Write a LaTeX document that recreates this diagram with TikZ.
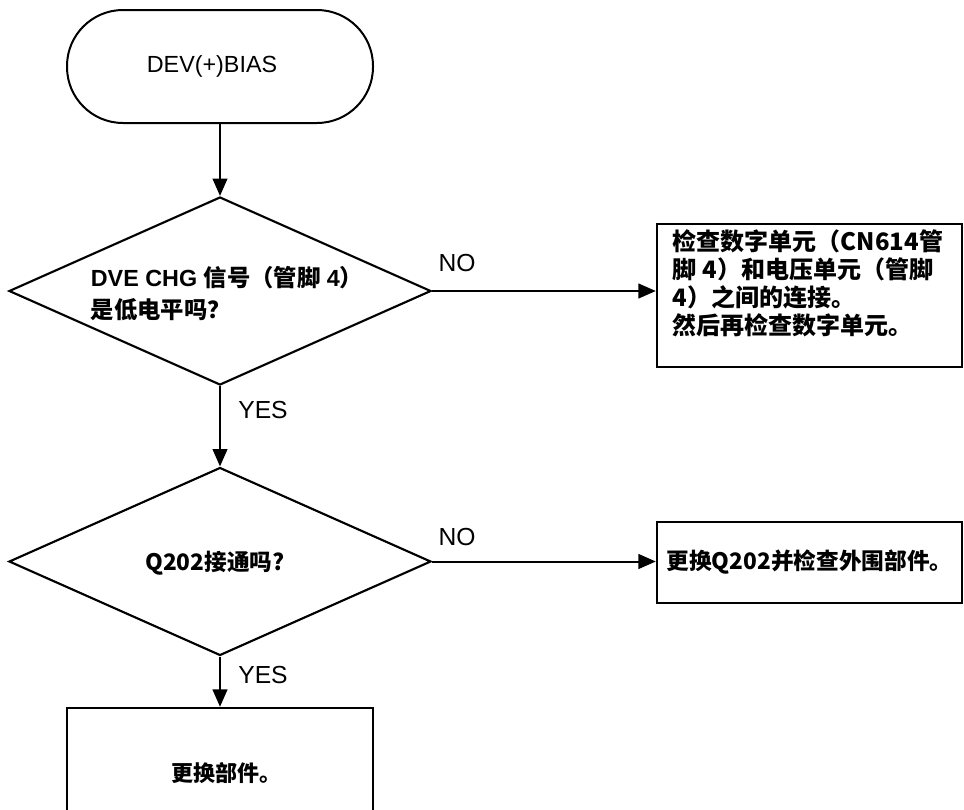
\documentclass[tikz,border=0pt]{standalone}
\usepackage{fontspec}
\setmainfont{Liberation Sans}
\newfontfamily\cjk{Noto Sans CJK SC}
\usetikzlibrary{shapes.geometric,arrows.meta}
\begin{document}
\begin{tikzpicture}[x=0.75pt,y=-0.75pt,
  line width=1.5pt,
  conn/.style={-{Triangle[length=13pt,width=11pt]}, line width=1.5pt},
  term/.style={draw, rectangle, rounded corners=42pt, minimum width=229.5pt, minimum height=84.75pt, inner sep=0pt, font=\fontsize{17.5}{21}\selectfont},
  dia/.style={draw, diamond, minimum width=316.5pt, minimum height=141pt, inner sep=0pt, line width=1.6pt},
  proc/.style={draw, rectangle, line width=1.8pt, inner sep=0pt},
  lbl/.style={font=\fontsize{18.5}{21}\selectfont, inner sep=0pt},
  cjkt/.style={font=\cjk\bfseries\fontsize{17}{21}\selectfont, inner sep=0pt}
]
\useasboundingbox (0,0) rectangle (964,810);
\clip (0,0) rectangle (964,810);

% terminal
\node[term] (start) at (220,66.5) {DEV(+)BIAS\hspace*{12pt}};

% decision 1
\node[dia] (d1) at (220,291) {};
\node[align=left, inner sep=0pt, font=\bfseries\fontsize{17.5}{24}\selectfont] (t1) at (227,294)
  {DVE CHG {\cjk 信号（管脚} 4{\cjk ）}\\{\cjk 是低电平吗？}};

% box 1
\node[proc, minimum width=228.75pt, minimum height=107.25pt] (b1) at (809.5,295.5) {};
\node[align=left, inner sep=0pt,
      font=\cjk\bfseries\fontsize{18}{21}\selectfont] (t3) at (808,283)
  {检查数字单元（CN614管\\脚 4）和电压单元（管脚\\4）之间的连接。\\然后再检查数字单元。};

% decision 2
\node[dia] (d2) at (220,561.5) {};
\node[cjkt] (t2) at (215,563) {Q202接通吗?};

% box 2
\node[proc, minimum width=228.75pt, minimum height=60.75pt,
      font=\cjk\bfseries\fontsize{17}{21}\selectfont] (b2) at (809.5,562.5)
  {更换Q202并检查外围部件。};

% box 3
\node[proc, minimum width=229.5pt, minimum height=97.5pt,
      font=\cjk\bfseries\fontsize{16.5}{21}\selectfont] (b3) at (220,773)
  {\hspace*{9pt}更换部件。};

% connectors
\draw[conn] (start.south) -- (d1.north);
\draw[conn] (d1.east) -- (d1.east -| b1.west);
\draw[conn] (d1.south) -- (d2.north);
\draw[conn] (d2.east) -- (d2.east -| b2.west);
\draw[conn] (d2.south) -- (b3.north);

% labels
\node[lbl] (no1) at (457,263) {NO};
\node[lbl] (yes1) at (263,410) {YES};
\node[lbl] (no2) at (457,537) {NO};
\node[lbl] (yes2) at (263,675) {YES};
\end{tikzpicture}
\end{document}
